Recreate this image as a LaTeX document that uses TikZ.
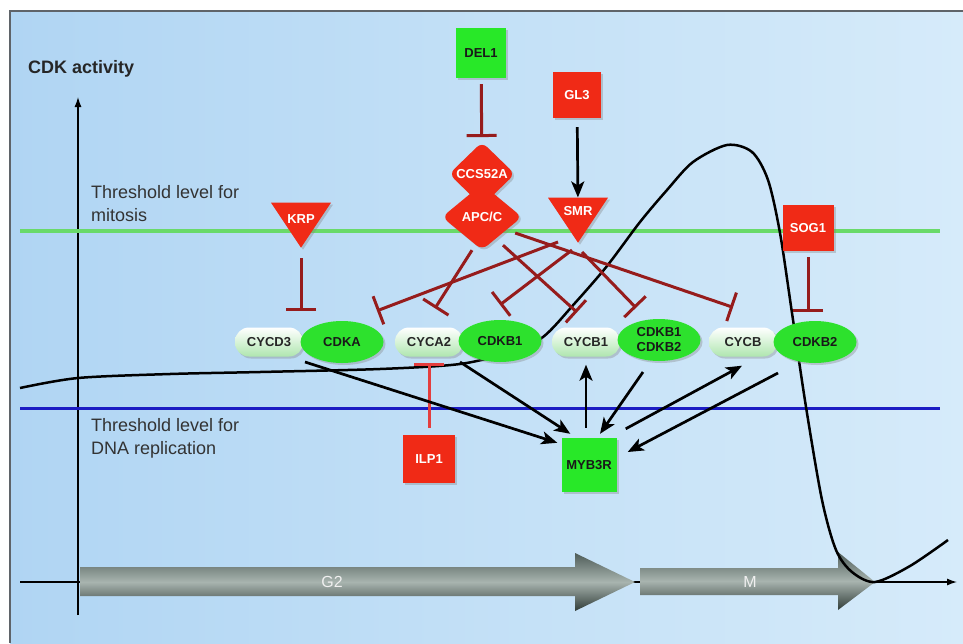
\documentclass[tikz,border=0pt]{standalone}
\usepackage{fontspec}
\setmainfont{Liberation Sans}
\usetikzlibrary{arrows.meta,calc,shapes.geometric,shadows}

\definecolor{boxred}{RGB}{240,42,22}
\definecolor{boxgreen}{RGB}{40,232,40}
\definecolor{cdkgreen}{RGB}{45,225,45}
\definecolor{pillgreen}{RGB}{175,230,175}
\definecolor{inhred}{RGB}{150,28,28}
\definecolor{ilpred}{RGB}{228,62,62}
\definecolor{bgleft}{RGB}{176,213,243}
\definecolor{bgright}{RGB}{214,235,250}
\definecolor{mitgreen}{RGB}{105,218,105}
\definecolor{dnablue}{RGB}{28,28,195}
\definecolor{framegray}{RGB}{95,100,105}
\definecolor{phasetop}{RGB}{78,92,88}
\definecolor{phasemid}{RGB}{168,180,175}
\definecolor{phasebot}{RGB}{48,60,56}

\newcommand\boxfont{\fontsize{13}{15}\selectfont\bfseries}

\tikzset{
  shade box/.style={drop shadow={shadow xshift=2pt, shadow yshift=-2pt, opacity=0.35}},
  redbox/.style={rectangle, fill=boxred, text=white, font=\boxfont, inner sep=1pt, shade box},
  greenbox/.style={rectangle, fill=boxgreen, text=black!90, font=\boxfont, inner sep=1pt, shade box},
  reddia/.style={diamond, fill=boxred, text=white, font=\boxfont, inner sep=0pt, rounded corners=7pt, shade box},
  redtri/.style={isosceles triangle, isosceles triangle apex angle=68, isosceles triangle stretches,
    shape border rotate=270, minimum width=60pt, minimum height=45pt, inner sep=0pt,
    fill=boxred, text=white, font=\boxfont, shade box},
  cycpill/.style={rectangle, rounded corners=14pt, minimum width=68pt, minimum height=29pt, inner sep=0pt,
    top color=white, bottom color=pillgreen, text=black!85, font=\boxfont, shade box},
  cdkell/.style={ellipse, fill=cdkgreen, minimum width=83pt, minimum height=42pt, inner sep=0pt,
    text=black!90, font=\boxfont, align=center, shade box},
  inh/.style={draw=inhred, line width=3pt, -{Bar[width=30pt,line width=3pt]}},
  act/.style={draw=black, line width=2.7pt, -{Stealth[length=16pt,width=13pt,inset=4pt]}},
  phasearrow/.style={top color=phasetop, bottom color=phasebot, middle color=phasemid},
  phaselabel/.style={text=gray!12, font=\fontsize{16}{18}\selectfont, inner sep=0pt},
  threshtext/.style={anchor=west, align=left, inner sep=0pt, text=black!80, font=\fontsize{18}{23}\selectfont}
}

\begin{document}
\begin{tikzpicture}[x=1pt,y=-1pt]
\useasboundingbox (0,0) rectangle (963,643);
\fill[white] (0,0) rectangle (963,643);
\shade[left color=bgleft, right color=bgright] (10,11) rectangle (963,643);
\draw[framegray, line width=1.5pt] (10,643) -- (10,11) -- (963,11);

\draw[line width=1.3pt, -{Latex[length=10pt,width=7pt]}] (78,615) -- (78,97);
\draw[line width=1.3pt, -{Latex[length=10pt,width=7pt]}] (20,582) -- (957,582);
\draw[mitgreen, line width=4pt] (20,231) -- (940,231);
\draw[dnablue, line width=3pt] (20,408) -- (940,408);

\shade[phasearrow] (80,567) -- (575,567) -- (575,553) -- (635,582) -- (575,611) -- (575,596) -- (80,596) -- cycle;
\shade[phasearrow] (640,568) -- (838,568) -- (838,552) -- (875,582) -- (838,610) -- (838,595) -- (640,595) -- cycle;
\node[phaselabel] (g2) at (332,582) {G2};
\node[phaselabel] (mphase) at (750,582) {M};

\node[anchor=west, inner sep=0pt, text=black!85, font=\fontsize{18}{22}\selectfont\bfseries] (cdklabel) at (28,69) {CDK activity};
\node[threshtext] (mitlabel) at (91,204) {Threshold level for\\mitosis};
\node[threshtext] (dnalabel) at (91,438) {Threshold level for\\DNA replication};

\draw[line width=2.5pt] plot[smooth, tension=0.5] coordinates {(20,388) (78,378) (170,374) (260,372) (380,369)
  (460,364) (510,352) (543,337) (575,303) (607,266) (640,222) (667,190) (693,162) (727,145) (752,152)
  (768,180) (780,233) (792,313) (806,407) (822,500) (836,550) (852,572) (875,582) (910,566) (948,540)};

\node[greenbox, minimum width=50pt, minimum height=50pt] (del1) at (481,53) {DEL1};
\node[redbox, minimum width=48pt, minimum height=46pt] (gl3) at (577,95) {GL3};
\node[reddia, minimum width=66pt, minimum height=64pt] (ccs) at (482,174) {\makebox[0pt]{CCS52A}};
\node[reddia, minimum width=80pt, minimum height=66pt] (apc) at (482,217) {\makebox[0pt]{APC/C}};
\node[redtri, anchor=apex] (smr) at (578,243) {\raisebox{-9.5pt}[0pt][0pt]{SMR}};
\node[redtri, anchor=apex] (krp) at (301,248) {\raisebox{-12.5pt}[0pt][0pt]{KRP}};
\node[redbox, minimum width=51pt, minimum height=46pt] (sog1) at (808,228) {SOG1};
\node[redbox, minimum width=52pt, minimum height=48pt] (ilp1) at (429,459) {ILP1};
\node[greenbox, minimum width=55pt, minimum height=54pt] (myb) at (589,465) {MYB3R};

\node[cycpill] (cycd3) at (269,342) {CYCD3};
\node[cdkell] (cdka) at (342,342) {CDKA};
\node[cycpill] (cyca2) at (429,342) {CYCA2};
\node[cdkell] (cdkb1) at (500,341) {CDKB1};
\node[cycpill] (cycb1) at (586,342) {CYCB1};
\node[cdkell] (cdkb12) at (659,340) {CDKB1\\CDKB2};
\node[cycpill] (cycb) at (743,342) {CYCB};
\node[cdkell] (cdkb2) at (815,342) {CDKB2};

\draw[inh, shorten <=6pt, shorten >=5pt] (del1) -- (ccs);
\draw[act, shorten <=9pt] (gl3) -- (smr);
\draw[inh, shorten <=10pt, shorten >=10pt] (krp.apex) -- (krp.apex |- cdka.north);
\draw[inh, shorten <=6pt, shorten >=9pt] (sog1.south) -- (sog1.south |- cdkb2.north);
\draw[inh, draw=ilpred, shorten <=7pt, shorten >=6pt] (ilp1) -- (cyca2);

\draw[inh] ($(apc.south)+(-10,0)$) -- ($(cyca2.north)+(6,-19)$);
\draw[inh] ($(apc.south)+(21,-5)$) -- ($(cycb1.north)+(-9,-15)$);
\draw[inh] ($(apc.east)+(-7,16)$) -- ($(cycb.north)+(-10,-20)$);
\draw[inh] ($(smr.apex)+(-20,-1)$) -- ($(cdka.north)+(35,-10)$);
\draw[inh] ($(smr.apex)+(-6,7)$) -- ($(cdkb1.north)+(0,-15)$);
\draw[inh] ($(smr.apex)+(4,9)$) -- ($(cdkb12.north)+(-23,-11)$);

\draw[act] ($(cycd3)+(36,20)$) -- ($(myb.north west)+(-4,5)$);
\draw[act] ($(cyca2)+(31,20)$) -- ($(myb.north west)+(9,-4)$);
\draw[act] ($(myb.north)+(-3,-10)$) -- ($(cycb1.south)+(0,8)$);
\draw[act] ($(cdkb12)+(-16,32)$) -- ($(myb.north)+(11,-4)$);
\draw[act] ($(myb.north east)+(9,-9)$) -- ($(cycb.south)+(-1,9)$);
\draw[act] ($(cdkb2)+(-37,31)$) -- ($(myb.east)+(11,-13)$);
\end{tikzpicture}
\end{document}
